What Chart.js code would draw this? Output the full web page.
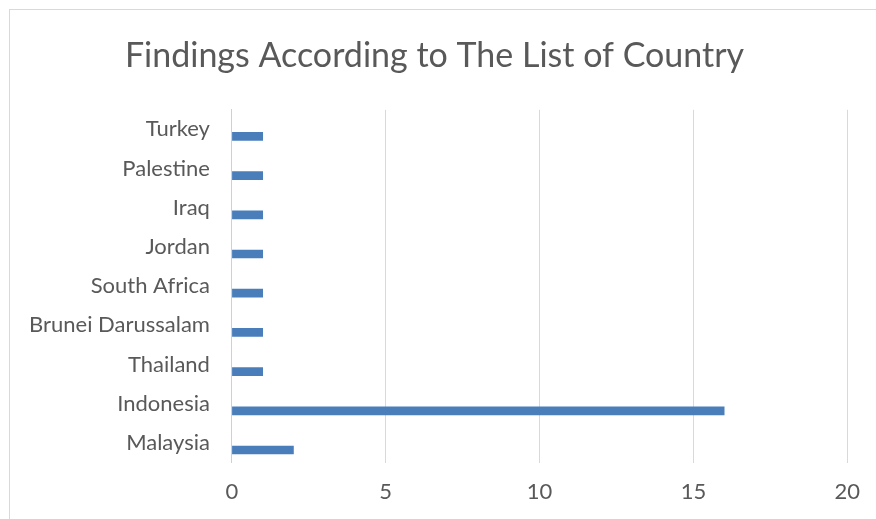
<!DOCTYPE html>
<html>
<head>
<meta charset="utf-8">
<script src="https://cdn.jsdelivr.net/npm/chart.js@4"></script>
<style>
  body { margin: 0; background: #fff; }
  #frame { position: absolute; left: 9px; top: 9px; width: 900px; height: 600px;
           border-top: 1px solid #d9d9d9; border-left: 1px solid #d9d9d9; }
  #box { position: absolute; left: 0; top: 0; width: 876px; height: 519px; }
</style>
</head>
<body>
<div id="frame"></div>
<div id="box"><canvas id="countryChart"></canvas></div>
<script>
var countries = ['Malaysia', 'Indonesia', 'Thailand', 'Brunei Darussalam', 'South Africa', 'Jordan', 'Iraq', 'Palestine', 'Turkey'];
var findings = [2, 16, 1, 1, 1, 1, 1, 1, 1];
var xTicks = [0, 5, 10, 15, 20];

// excel draws the bars a bit below the category centre
var barShift = {
    id: 'barShift',
    beforeDatasetsDraw: function(chart) {
        chart.ctx.save();
        chart.ctx.translate(0, 7);
    },
    afterDatasetsDraw: function(chart) {
        chart.ctx.restore();
    }
};

document.addEventListener("DOMContentLoaded", function() {
    var textColor = '#595959';
    var fontFamily = 'Lato, "Open Sans", sans-serif';
    var ctx = document.getElementById('countryChart').getContext('2d');
    new Chart(ctx, {
        type: 'bar',
        data: {
            labels: countries,
            datasets: [{
                label: 'Findings',
                data: findings,
                backgroundColor: '#4a7ebb',
                borderWidth: 0,
                barThickness: 8
            }]
        },
        plugins: [barShift],
        options: {
            indexAxis: 'y',
            responsive: true,
            maintainAspectRatio: false,
            animation: false,
            layout: {
                padding: { left: 7, right: 14, top: 0, bottom: -2 }
            },
            scales: {
                x: {
                    min: xTicks[0],
                    max: xTicks[xTicks.length - 1],
                    afterBuildTicks: function(scale) {
                        scale.ticks = xTicks.map(function(v) { return { value: v }; });
                    },
                    grid: { color: '#d9d9d9', lineWidth: 1, drawTicks: false },
                    border: { display: false },
                    ticks: {
                        color: textColor,
                        padding: 16,
                        font: { family: fontFamily, size: 22 }
                    }
                },
                y: {
                    reverse: true,
                    grid: { display: true, color: 'rgba(0,0,0,0)', drawTicks: false },
                    border: { display: true, color: '#d0d0d0', width: 1 },
                    ticks: {
                        color: textColor,
                        padding: 22,
                        font: { family: fontFamily, size: 22 }
                    }
                }
            },
            plugins: {
                legend: { display: false },
                tooltip: { enabled: false },
                title: {
                    display: true,
                    text: 'Findings According to The List of Country',
                    color: textColor,
                    font: { family: fontFamily, size: 34, weight: 'normal' },
                    padding: { top: 36, bottom: 33 }
                }
            }
        }
    });
});
</script>
</body>
</html>
